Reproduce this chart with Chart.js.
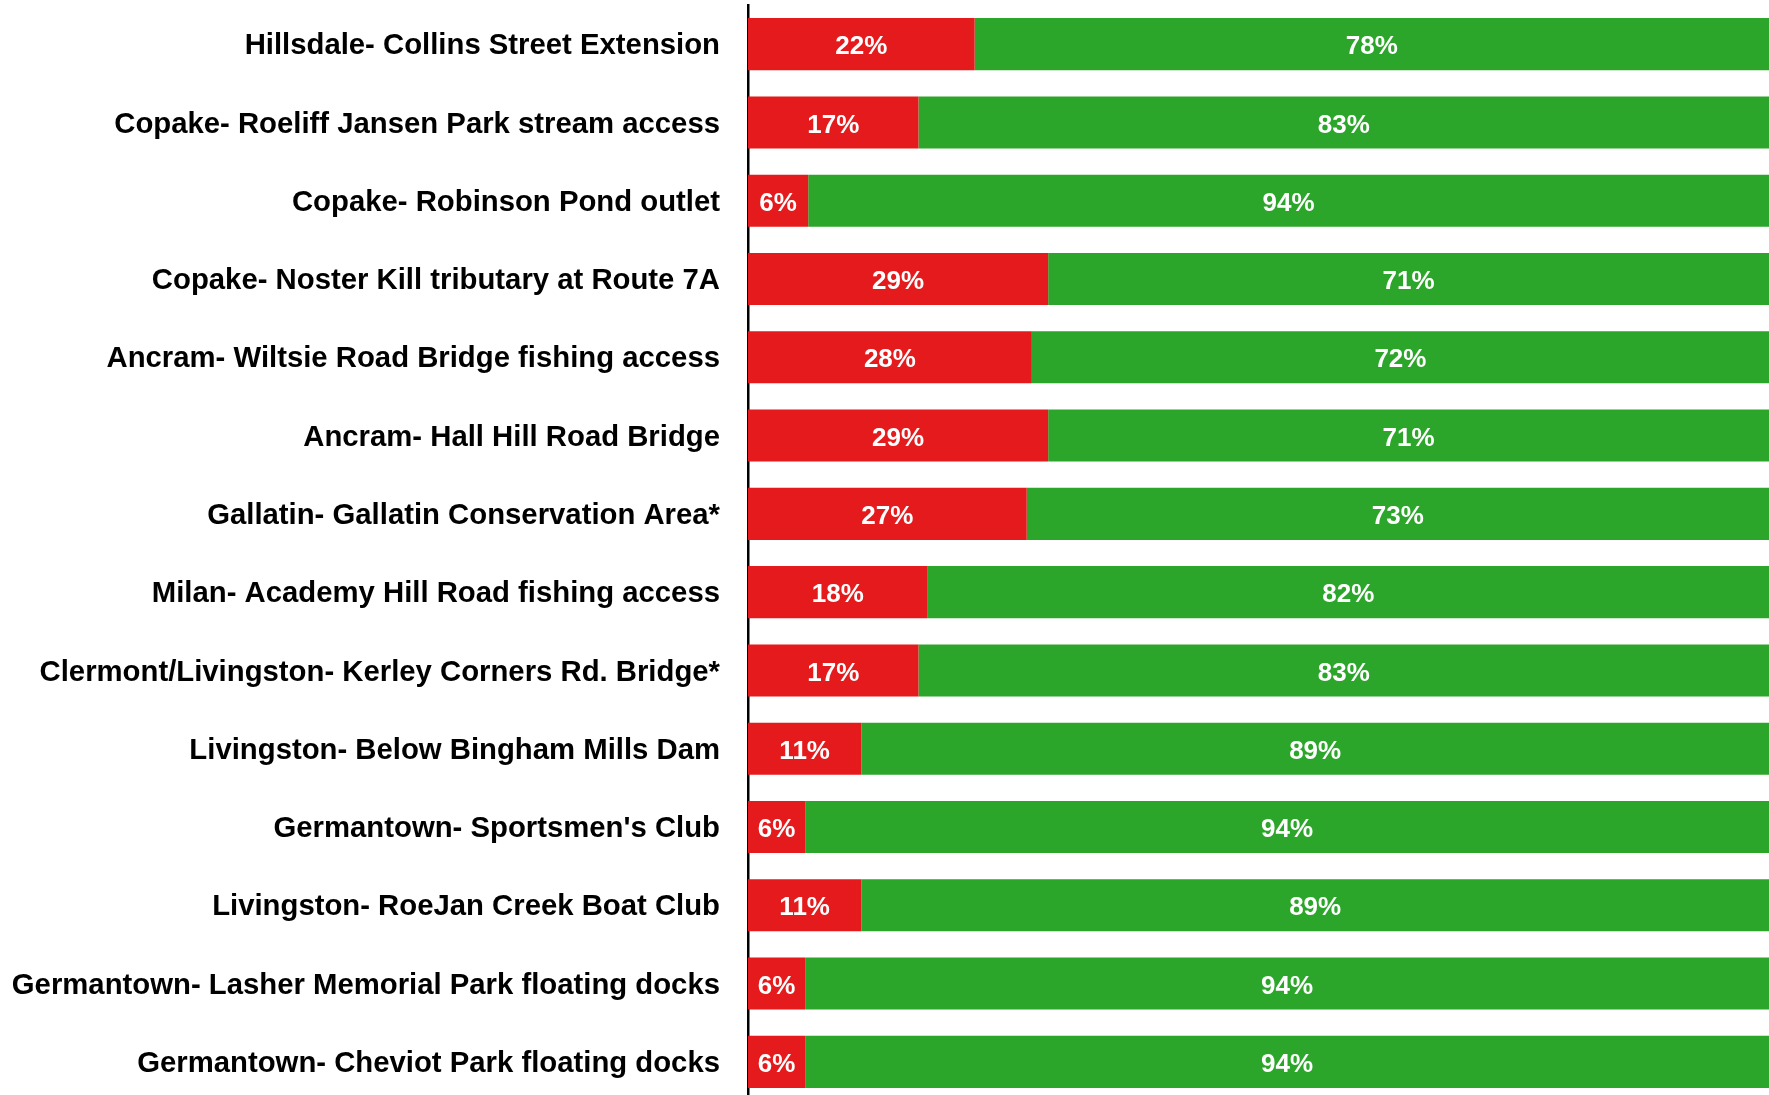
<!DOCTYPE html>
<html>
<head>
<meta charset="utf-8">
<script src="https://cdn.jsdelivr.net/npm/chart.js@4/dist/chart.umd.min.js"></script>
<style>
  html, body { margin: 0; padding: 0; background: #fff; overflow: hidden; }
  #wrap { width: 1769px; height: 1101px; position: relative; }
</style>
</head>
<body>
<div id="wrap"><canvas id="myChart"></canvas></div>
<script>
const sitios = [
    'Hillsdale- Collins Street Extension',
    'Copake- Roeliff Jansen Park stream access',
    'Copake- Robinson Pond outlet',
    'Copake- Noster Kill tributary at Route 7A',
    'Ancram- Wiltsie Road Bridge fishing access',
    'Ancram- Hall Hill Road Bridge',
    'Gallatin- Gallatin Conservation Area*',
    'Milan- Academy Hill Road fishing access',
    'Clermont/Livingston- Kerley Corners Rd. Bridge*',
    'Livingston- Below Bingham Mills Dam',
    "Germantown- Sportsmen's Club",
    'Livingston- RoeJan Creek Boat Club',
    'Germantown- Lasher Memorial Park floating docks',
    'Germantown- Cheviot Park floating docks'
];
// percentages
const rojo = [22.2, 16.7, 5.9, 29.4, 27.8, 29.4, 27.3, 17.6, 16.7, 11.1, 5.6, 11.1, 5.6, 5.6];
const verde = [77.8, 83.3, 94.1, 70.6, 72.2, 70.6, 72.7, 82.4, 83.3, 88.9, 94.4, 88.9, 94.4, 94.4];

const etiquetas = {
    id: 'etiquetas',
    afterDatasetsDraw(chart) {
        const c = chart.ctx;
        c.save();
        c.fillStyle = '#fff';
        c.font = 'bold 26px "Liberation Sans", Arial, sans-serif';
        c.textAlign = 'center';
        c.textBaseline = 'middle';
        chart.data.datasets.forEach((ds, i) => {
            chart.getDatasetMeta(i).data.forEach((bar, j) => {
                const v = ds.data[j];
                c.fillText(Math.round(v) + '%', (bar.x + bar.base) / 2, bar.y + 3);
            });
        });
        c.restore();
    }
};

const ctx = document.getElementById('myChart').getContext('2d');
const myChart = new Chart(ctx, {
    type: 'bar',
    data: {
        labels: sitios,
        datasets: [{
            label: 'No',
            data: rojo,
            backgroundColor: '#e41a1c',
            borderWidth: 0
        },
        {
            label: 'Yes',
            data: verde,
            backgroundColor: '#2ca62a',
            borderWidth: 0
        }]
    },
    options: {
        indexAxis: 'y',
        responsive: true,
        maintainAspectRatio: false,
        animation: false,
        layout: { padding: { top: 5, left: 0, right: 0, bottom: 0 } },
        datasets: { bar: { categoryPercentage: 1, barPercentage: 0.665 } },
        plugins: { legend: { display: false }, tooltip: { enabled: false } },
        scales: {
            x: {
                stacked: true,
                min: 0,
                max: 100,
                display: false
            },
            y: {
                stacked: true,
                grid: { display: false, drawTicks: false },
                border: { display: true, color: '#000', width: 2.5 },
                ticks: {
                    color: '#000',
                    padding: 28,
                    labelOffset: 2,
                    font: { family: '"Liberation Sans", Arial, sans-serif', size: 29.3, weight: 'bold' }
                },
                afterFit(scale) {
                    scale.width = 748;
                    scale.paddingTop = 0;
                    scale.paddingBottom = 0;
                }
            }
        }
    },
    plugins: [etiquetas]
});
</script>
</body>
</html>
